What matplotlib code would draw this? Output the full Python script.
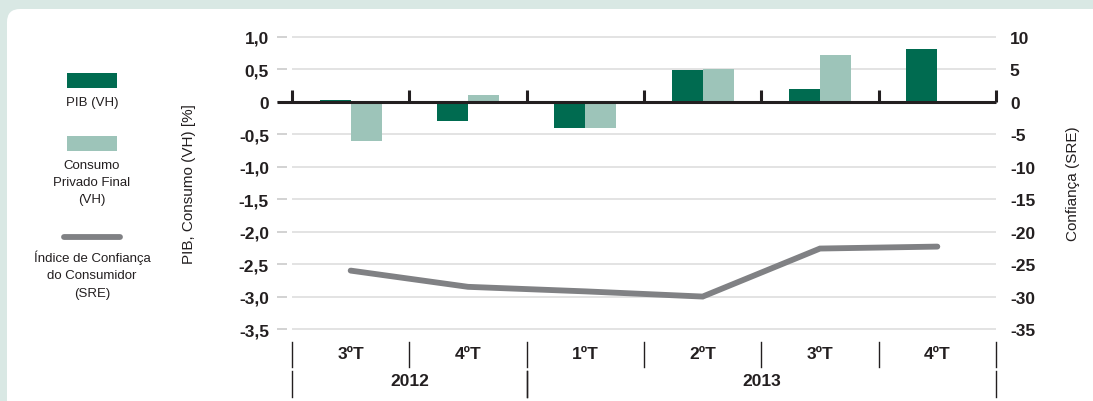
import numpy as np
import matplotlib
matplotlib.use("Agg")
import matplotlib.pyplot as plt
from matplotlib.patches import FancyBboxPatch, Rectangle
from matplotlib.lines import Line2D
from matplotlib.transforms import blended_transform_factory

plt.rcParams['font.family'] = ['Liberation Sans', 'DejaVu Sans']

# quarters and years
quarters = ["3ºT", "4ºT", "1ºT", "2ºT", "3ºT", "4ºT"]
years = ["2012", "2013"]
year_spans = [(0, 2), (2, 6)]

# year-on-year change, %
pib = [0.03, -0.30, -0.41, 0.49, 0.20, 0.82]
consumo = [-0.61, 0.11, -0.41, 0.51, 0.73, np.nan]
# consumer confidence index (SRE)
confianca = [-26.0, -28.5, -29.2, -30.0, -22.6, -22.3]

left_ticks = [1.0, 0.5, 0, -0.5, -1.0, -1.5, -2.0, -2.5, -3.0, -3.5]
left_labels = ["1,0", "0,5", "0", "-0,5", "-1,0", "-1,5", "-2,0", "-2,5", "-3,0", "-3,5"]
right_ticks = [10, 5, 0, -5, -10, -15, -20, -25, -30, -35]

C_PIB = "#006b50"
C_CONS = "#9dc4b9"
C_LINE = "#808184"
C_BG = "#d9e8e4"
C_TXT = "#231f20"
TICK_FS = 12.5
LEG_FS = 9.5

W, H = 1093, 402
fig = plt.figure(figsize=(W / 100, H / 100), dpi=100)
fig.patch.set_facecolor(C_BG)

# white rounded panel
panel = FancyBboxPatch((7 / W, -0.2), 1.2, 1.2 - 10 / H, boxstyle="round,pad=0,rounding_size=0.012",
                       transform=fig.transFigure, facecolor="white", edgecolor="none",
                       mutation_aspect=W / H, zorder=-5)
fig.patches.append(panel)

ax = fig.add_axes([292 / W, (H - 336.5) / H, 704 / W, 305 / H])
ax.set_facecolor("none")
ax2 = ax.twinx()

for a in (ax, ax2):
    for s in a.spines.values():
        s.set_visible(False)
ax.spines['left'].set_position(('outward', 3.6))

x = np.arange(len(quarters))
bw = 0.265
ax.bar(x - bw / 2, pib, bw, color=C_PIB, zorder=3)
ax.bar(x + bw / 2, consumo, bw, color=C_CONS, zorder=3)

ax.set_xlim(-0.5, 5.5)
ax.set_ylim(-3.6, 1.1)
ax2.set_ylim(-36, 11)

ax2.plot(x, confianca, color=C_LINE, lw=4.2, solid_capstyle="round",
         solid_joinstyle="miter", zorder=4)
ax2.set_zorder(ax.get_zorder() + 1)
ax2.patch.set_visible(False)

ax.set_yticks(left_ticks)
ax.set_yticklabels(left_labels, fontsize=TICK_FS, fontweight="bold", color=C_TXT)
ax.tick_params(axis='y', length=7.5, width=1.3, color="#cfcfcf", pad=5.5)
ax.set_xticks([])
ax.yaxis.grid(True, color="#dedede", lw=1.2, zorder=1)
ax.set_axisbelow(True)

ax2.set_yticks(right_ticks)
ax2.set_yticklabels([str(t) for t in right_ticks], fontsize=TICK_FS, fontweight="bold", color=C_TXT)
ax2.tick_params(axis='y', length=0, pad=10)

# zero line with quarter separators
blend = blended_transform_factory(ax.transAxes, ax.transData)
ax.plot([-15 / 704, 1.0], [0, 0], transform=blend, color=C_TXT, lw=2.2,
        clip_on=False, zorder=5, solid_capstyle="butt")
ax.vlines(np.arange(-0.5, 6), 0, 0.185, color=C_TXT, lw=2.2, zorder=5, clip_on=False)

ax.set_ylabel("PIB, Consumo (VH) [%]", fontsize=11, color=C_TXT, labelpad=31)
ax2.set_ylabel("Confiança (SRE)", fontsize=11, color=C_TXT, labelpad=22)

# two-row category axis below the plot
tf = blended_transform_factory(ax.transData, fig.transFigure)
for b in np.arange(-0.5, 6):
    ax.add_line(Line2D([b, b], [(H - 343) / H, (H - 368) / H], transform=tf,
                       color=C_TXT, lw=1.0, clip_on=False))
for i, q in enumerate(quarters):
    ax.text(i, (H - 355) / H, q, transform=tf, ha="center", va="center",
            fontsize=TICK_FS, fontweight="bold", color=C_TXT)
for (a, b) in year_spans:
    for edge in (a - 0.5, b - 0.5):
        ax.add_line(Line2D([edge, edge], [(H - 372) / H, (H - 398) / H], transform=tf,
                           color=C_TXT, lw=1.0, clip_on=False))
for (a, b), yr in zip(year_spans, years):
    ax.text((a + b - 1) / 2, (H - 382) / H, yr, transform=tf, ha="center", va="center",
            fontsize=TICK_FS, fontweight="bold", color=C_TXT)

# legend on the left side
px = lambda u, v: (u / W, (H - v) / H)
fig.patches.append(Rectangle(px(67, 89), 50 / W, 15 / H, transform=fig.transFigure,
                             facecolor=C_PIB, edgecolor="none"))
fig.text(*px(92, 103), "PIB (VH)", ha="center", va="center", fontsize=LEG_FS, color=C_TXT)
fig.patches.append(Rectangle(px(67, 152), 50 / W, 15 / H, transform=fig.transFigure,
                             facecolor=C_CONS, edgecolor="none"))
fig.text(*px(92, 183), "Consumo\nPrivado Final\n(VH)", ha="center", va="center",
         fontsize=LEG_FS, color=C_TXT, linespacing=1.6)
fig.lines.append(Line2D([64 / W, 120 / W], [(H - 238) / H] * 2, transform=fig.transFigure,
                        color=C_LINE, lw=4.2, solid_capstyle="round"))
fig.text(*px(92, 275), "Índice de Confiança\ndo Consumidor\n(SRE)", ha="center", va="center",
         fontsize=LEG_FS, color=C_TXT, linespacing=1.6)

fig.savefig("out.png", dpi=100, facecolor=fig.get_facecolor())
